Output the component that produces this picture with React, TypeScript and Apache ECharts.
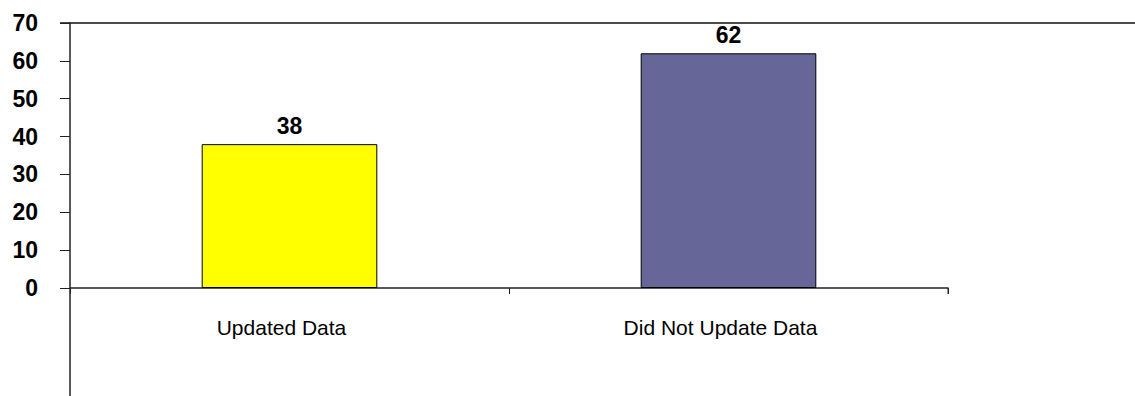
import React, { useEffect, useRef } from "react";
import * as echarts from "echarts";

const categories = ["Updated Data", "Did Not Update Data"];
const values = [38, 62];
const barColors = ["#FFFF00", "#666699"];
const yMin = 0;
const yMax = 70;
const yStep = 10;

export default function App() {
  const ref = useRef<HTMLDivElement>(null);

  useEffect(() => {
    if (!ref.current) return;
    const chart = echarts.init(ref.current, null, { renderer: "svg" });

    const gridLeft = 70;
    const gridRight = 187;
    const gridTop = 23;
    const gridBottom = 108;

    chart.setOption({
      animation: false,
      backgroundColor: "#ffffff",
      grid: { left: gridLeft, right: gridRight, top: gridTop, bottom: gridBottom, containLabel: false },
      xAxis: {
        type: "category",
        data: categories,
        boundaryGap: true,
        axisLine: { show: true, lineStyle: { color: "#222", width: 1.5 } },
        axisTick: { show: true, length: 6, inside: false, lineStyle: { color: "#222" } },
        axisLabel: {
          margin: 29,
          color: "#000",
          fontSize: 21,
          padding: [0, 16, 0, 0],
          fontFamily: "'Liberation Sans Narrow', 'Arial Narrow', 'Liberation Sans', sans-serif",
        },
        splitLine: { show: false },
      },
      yAxis: {
        type: "value",
        min: yMin,
        max: yMax,
        interval: yStep,
        axisLine: { show: true, lineStyle: { color: "#222", width: 1.5 } },
        axisTick: { show: true, length: 10, lineStyle: { color: "#222" } },
        axisLabel: {
          margin: 32,
          color: "#000",
          fontSize: 23,
          fontWeight: "bold",
          fontFamily: "'Liberation Sans', Arial, sans-serif",
        },
        splitLine: { show: false },
      },
      series: [
        {
          type: "bar",
          barWidth: "40%",
          data: values.map((v, i) => ({
            value: v,
            itemStyle: { color: barColors[i], borderColor: "#000", borderWidth: 1 },
          })),
          label: {
            show: true,
            position: "top",
            distance: 7,
            color: "#000",
            fontSize: 23,
            fontWeight: "bold",
            fontFamily: "'Liberation Sans', Arial, sans-serif",
          },
        },
      ],
      graphic: [
        {
          type: "line",
          shape: { x1: gridLeft - 10, y1: gridTop, x2: 1135, y2: gridTop },
          style: { stroke: "#111", lineWidth: 1.5 },
        },
        {
          type: "line",
          shape: { x1: gridLeft, y1: 396 - gridBottom, x2: gridLeft, y2: 396 },
          style: { stroke: "#222", lineWidth: 1.5 },
        },
        {
          type: "line",
          shape: { x1: 1135 - gridRight, y1: 396 - gridBottom, x2: 1135 - gridRight, y2: 396 - gridBottom + 6 },
          style: { stroke: "#222", lineWidth: 1 },
        },
      ],
    });

    return () => chart.dispose();
  }, []);

  return (
    <div
      ref={ref}
      style={{ position: "fixed", left: 0, top: 0, width: 1135, height: 396, background: "#fff" }}
    />
  );
}
